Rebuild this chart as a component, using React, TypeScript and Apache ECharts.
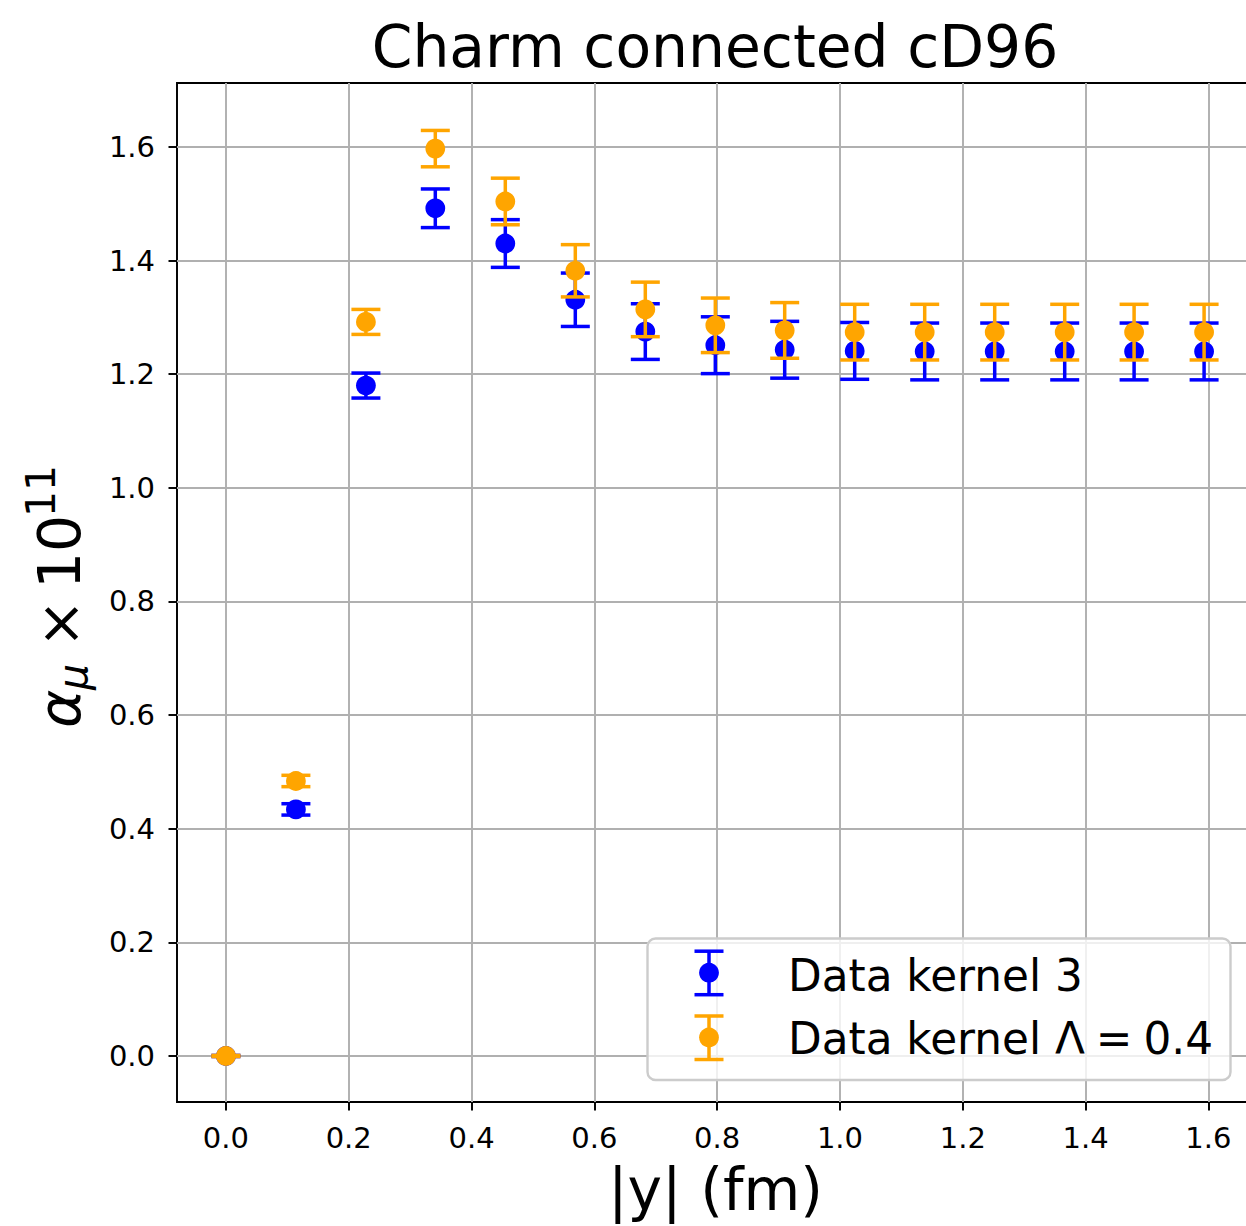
import React, { useEffect, useRef } from "react";
import * as echarts from "echarts";

// |y| positions (fm)
const xs = [0, 0.114, 0.228, 0.341, 0.455, 0.569, 0.683, 0.797, 0.91, 1.024, 1.138, 1.252, 1.366, 1.479, 1.593];
// Data kernel 3
const kernel3 = [0, 0.434, 1.18, 1.492, 1.43, 1.331, 1.275, 1.251, 1.243, 1.241, 1.24, 1.24, 1.24, 1.24, 1.24];
const kernel3Err = [0.001, 0.01, 0.022, 0.034, 0.042, 0.047, 0.049, 0.05, 0.05, 0.05, 0.05, 0.05, 0.05, 0.05, 0.05];
// Data kernel Lambda = 0.4
const kernelL = [0, 0.484, 1.292, 1.597, 1.504, 1.382, 1.314, 1.286, 1.277, 1.274, 1.274, 1.274, 1.274, 1.274, 1.274];
const kernelLErr = [0.001, 0.01, 0.022, 0.032, 0.041, 0.046, 0.048, 0.048, 0.049, 0.049, 0.049, 0.049, 0.049, 0.049, 0.049];

const xTicks = [0, 0.2, 0.4, 0.6, 0.8, 1.0, 1.2, 1.4, 1.6];
const yTicks = [0, 0.2, 0.4, 0.6, 0.8, 1.0, 1.2, 1.4, 1.6];

const BLUE = "#0000ff";
const ORANGE = "#ffa500";
const FONT = "DejaVu Sans";
const CAP = 14.5;
const ELW = 3.5;

function errRender(color: string) {
  return (params: any, api: any) => {
    const x = api.value(0);
    const y = api.value(1);
    const e = api.value(2);
    const pt = api.coord([x, y + e]);
    const pb = api.coord([x, y - e]);
    const style = { stroke: color, lineWidth: ELW };
    return {
      type: "group",
      children: [
        { type: "line", shape: { x1: pt[0], y1: pt[1], x2: pb[0], y2: pb[1] }, style },
        { type: "line", shape: { x1: pt[0] - CAP, y1: pt[1], x2: pt[0] + CAP, y2: pt[1] }, style },
        { type: "line", shape: { x1: pb[0] - CAP, y1: pb[1], x2: pb[0] + CAP, y2: pb[1] }, style },
      ],
    };
  };
}

function txt(text: string, x: number, y: number, size: number, extra: any = {}) {
  return {
    type: "text",
    x,
    y,
    z: 20,
    style: {
      text,
      fontSize: size,
      fontFamily: FONT,
      fill: "#000",
      align: extra.align || "left",
      textAlign: extra.align || "left",
      verticalAlign: "middle",
      textVerticalAlign: "middle",
      fontStyle: extra.fontStyle || "normal",
    },
  };
}

function legendIcon(color: string, cx: number, cy: number) {
  const top = cy - 21.5;
  const bot = cy + 22;
  const style = { stroke: color, lineWidth: ELW };
  return [
    { type: "line", z: 20, shape: { x1: cx, y1: top, x2: cx, y2: bot }, style },
    { type: "line", z: 20, shape: { x1: cx - CAP, y1: top, x2: cx + CAP, y2: top }, style },
    { type: "line", z: 20, shape: { x1: cx - CAP, y1: bot, x2: cx + CAP, y2: bot }, style },
    { type: "circle", z: 21, shape: { cx, cy, r: 9.9 }, style: { fill: color } },
  ];
}

export default function App() {
  const ref = useRef<HTMLDivElement>(null);
  useEffect(() => {
    if (!ref.current) return;
    const chart = echarts.init(ref.current, null, { renderer: "svg" });
    const d3 = xs.map((x, i) => [x, kernel3[i], kernel3Err[i]]);
    const dL = xs.map((x, i) => [x, kernelL[i], kernelLErr[i]]);
    const axisCommon = {
      type: "value",
      minInterval: 0.2,
      maxInterval: 0.2,
      splitNumber: 8,
      axisLine: { show: false, onZero: false },
      axisTick: { show: true, length: 8.5, inside: false, lineStyle: { color: "#000", width: 1.94 } },
      axisLabel: {
        fontSize: 29,
        fontFamily: FONT,
        color: "#000",
        formatter: (v: number) => v.toFixed(1),
      },
      splitLine: { show: true, lineStyle: { color: "#b0b0b0", width: 1.94 } },
    };
    chart.setOption({
      animation: false,
      textStyle: { fontFamily: FONT },
      grid: {
        left: 177,
        top: 83,
        width: 1076,
        height: 1019,
        show: true,
        borderColor: "#000",
        borderWidth: 1.94,
        backgroundColor: "transparent",
        containLabel: false,
      },
      xAxis: {
        ...axisCommon,
        min: -0.07965,
        max: 1.67265,
        axisTick: { ...axisCommon.axisTick, customValues: xTicks },
        axisLabel: { ...axisCommon.axisLabel, margin: 21, customValues: xTicks },
      },
      yAxis: {
        ...axisCommon,
        min: -0.081,
        max: 1.7125,
        axisTick: { ...axisCommon.axisTick, customValues: yTicks },
        axisLabel: { ...axisCommon.axisLabel, margin: 22, customValues: yTicks },
      },
      series: [
        {
          type: "custom",
          name: "err3",
          z: 2,
          renderItem: errRender(BLUE),
          encode: { x: 0, y: 1 },
          data: d3,
        },
        {
          type: "scatter",
          name: "Data kernel 3",
          z: 3,
          symbol: "circle",
          symbolSize: 19.8,
          itemStyle: { color: BLUE, opacity: 1 },
          data: d3.map((d) => [d[0], d[1]]),
        },
        {
          type: "custom",
          name: "errL",
          z: 4,
          renderItem: errRender(ORANGE),
          encode: { x: 0, y: 1 },
          data: dL,
        },
        {
          type: "scatter",
          name: "Data kernel L",
          z: 5,
          symbol: "circle",
          symbolSize: 19.8,
          itemStyle: { color: ORANGE, opacity: 1 },
          data: dL.map((d) => [d[0], d[1]]),
        },
      ],
      graphic: [
        txt("Charm connected cD96", 715, 47, 58.3, { align: "center" }),
        txt("|y| (fm)", 715.5, 1190, 58.3, { align: "center" }),
        {
          type: "group",
          x: 77,
          y: 728,
          rotation: Math.PI / 2,
          z: 20,
          children: [
            txt("α", 0, -17.2, 58.3, { fontStyle: "italic" }),
            txt("μ", 38, -4.2, 41, { fontStyle: "italic" }),
            txt("×", 80, -17.2, 58.3),
            txt("10", 139, -17.2, 58.3),
            txt("11", 211, -36.2, 41),
          ],
        },
        {
          type: "rect",
          z: 19,
          shape: { x: 647.5, y: 938.5, width: 583, height: 141.5, r: 8 },
          style: { fill: "rgba(255,255,255,0.8)", stroke: "#cccccc", lineWidth: 2.4 },
        },
        ...legendIcon(BLUE, 709, 972.7),
        ...legendIcon(ORANGE, 709, 1037.5),
        txt("Data kernel 3", 788, 975, 43.75),
        txt("Data kernel Λ\u2005=\u20050.4", 788, 1038, 43.75),
      ],
    });
    return () => chart.dispose();
  }, []);
  return (
    <div
      style={{ position: "absolute", left: 0, top: 0, width: 1246, height: 1226, overflow: "hidden", background: "#fff" }}
    >
      <div ref={ref} style={{ position: "absolute", left: 0, top: 0, width: 1280, height: 1226 }} />
    </div>
  );
}
